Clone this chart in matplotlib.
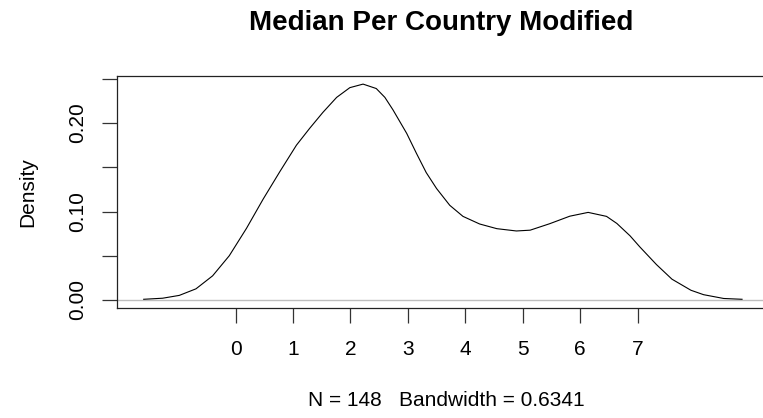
import matplotlib
matplotlib.use("Agg")
import matplotlib.pyplot as plt

plt.rcParams['font.family'] = ['Liberation Sans', 'DejaVu Sans']

### density curve (x value, density)
dens_x = [-1.60, -1.27, -0.98, -0.69, -0.40, -0.11, 0.19, 0.48, 0.77, 1.06,
          1.29, 1.52, 1.76, 1.99, 2.22, 2.45, 2.60, 2.74, 2.98, 3.15,
          3.32, 3.50, 3.73, 3.96, 4.25, 4.55, 4.89, 5.13, 5.47, 5.82,
          6.14, 6.46, 6.64, 6.87, 7.04, 7.33, 7.60, 7.93, 8.15, 8.50,
          8.82]
dens_y = [0.0008, 0.0020, 0.0052, 0.0126, 0.0273, 0.0500, 0.0810, 0.1140, 0.1450, 0.1750,
          0.1940, 0.2120, 0.2290, 0.2400, 0.2440, 0.2390, 0.2290, 0.2150, 0.1883, 0.1657,
          0.1440, 0.1260, 0.1070, 0.0945, 0.0859, 0.0806, 0.0780, 0.0789, 0.0862, 0.0947,
          0.0990, 0.0945, 0.0865, 0.0725, 0.0600, 0.0400, 0.0235, 0.0110, 0.0060, 0.0017,
          0.0008]

x_ticks = [0, 1, 2, 3, 4, 5, 6, 7]
y_ticks = [0.00, 0.05, 0.10, 0.15, 0.20, 0.25]
y_tick_labels = ["0.00", "", "0.10", "", "0.20", ""]

title = "Median Per Country Modified"
sub = "N = 148   Bandwidth = 0.6341"

W, H = 763, 418
fig = plt.figure(figsize=(W / 100, H / 100), dpi=100)
# plot box runs a little past the right edge, like the R output
ax = fig.add_axes([117.3 / W, 1 - 308.3 / H, (765 - 117.3) / W, (308.3 - 75.7) / H])

ax.axhline(0, color="#bebebe", lw=1.0)
ax.plot(dens_x, dens_y, color="black", lw=0.8)

ax.set_xlim(-2.06, 9.22)
ax.set_ylim(-0.0094, 0.2535)
ax.set_xticks(x_ticks)
ax.set_xticklabels([str(v) for v in x_ticks])
ax.set_yticks(y_ticks)
ax.set_yticklabels(y_tick_labels, rotation=90, va="center")

for s in ax.spines.values():
    s.set_linewidth(0.9)
    s.set_color("#222222")
ax.tick_params(axis="both", length=10.8, width=0.9, color="#333333", labelsize=15)
ax.tick_params(axis="x", pad=12)
ax.tick_params(axis="y", pad=11)

fig.text(441 / W, 1 - 23 / H, title, ha="center", va="center", fontsize=20, fontweight="bold")
fig.text(28 / W, 1 - 192 / H, "Density", ha="center", va="center", rotation=90, fontsize=15)
fig.text(446 / W, 1 - 400 / H, sub, ha="center", va="center", fontsize=15)

fig.savefig("out.png", dpi=100)
